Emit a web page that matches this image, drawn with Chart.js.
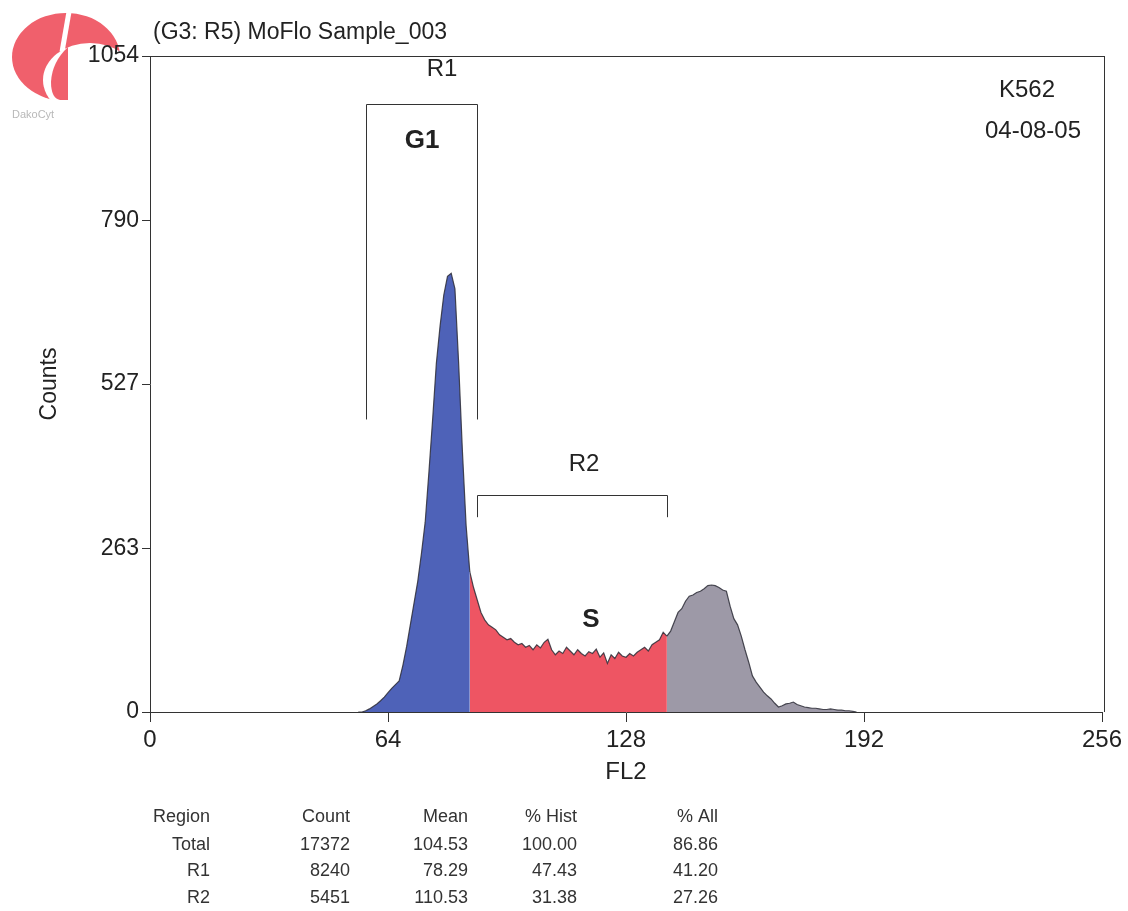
<!DOCTYPE html>
<html>
<head>
<meta charset="utf-8">
<script src="https://cdn.jsdelivr.net/npm/chart.js@4.4.1/dist/chart.umd.min.js"></script>
<style>
  body { margin: 0; background: #fff; }
  #wrap { width: 1128px; height: 911px; position: relative; }
</style>
</head>
<body>
<div id="wrap"><canvas id="myChart" width="1128" height="911"></canvas></div>
<script>
// histogram: FL2 channel -> counts
var firstChannel = 56;
var counts = [
    0, 0, 2, 5, 9, 13, 18, 24, 31, 38,          // 56-65
    44, 50, 75, 105, 140, 175, 210, 255, 305, 385, // 66-75
    470, 560, 620, 670, 700, 705, 680, 560, 420, 300, // 76-85
    225, 200, 180, 160, 148, 140, 136, 132, 124, 120, // 86-95
    116, 118, 112, 108, 110, 104, 107, 100, 108, 103, // 96-105
    112, 117, 100, 92, 98, 94, 104, 98, 92, 100,   // 106-115
    94, 90, 97, 94, 101, 88, 95, 78, 92, 86,       // 116-125
    96, 90, 88, 94, 90, 96, 100, 104, 98, 108,     // 126-135
    112, 116, 128, 122, 130, 145, 160, 166, 178, 186, // 136-145
    188, 192, 194, 198, 203, 204, 203, 200, 196, 194, // 146-155
    170, 150, 140, 122, 100, 80, 58, 48, 40, 32,   // 156-165
    26, 21, 14, 8, 10, 13, 14, 16, 12, 10,         // 166-175
    8, 7, 6, 6, 5, 4, 4, 5, 4, 3,                  // 176-185
    3, 2, 2, 1, 0                                  // 186-190
];
var phaseBreaks = [86, 139];       // G1 | S | G2 colour change
var phaseNames = ["G1", "S", "G2"];
var r1Gate = [58, 88];
var r2Gate = [88, 139];

var xTicks = [0, 64, 128, 192, 256];
var yTicks = [0, 263, 527, 790, 1054];

var tableHeader = ["Region", "Count", "Mean", "% Hist", "% All"];
var tableRegions = ["Total", "R1", "R2"];
var tableCount = ["17372", "8240", "5451"];
var tableMean = ["104.53", "78.29", "110.53"];
var tableHist = ["100.00", "47.43", "31.38"];
var tableAll = ["86.86", "41.20", "27.26"];

var FONT = "'Liberation Sans', Arial, Helvetica, sans-serif";
var INK = "#222";

var points = counts.map(function(c, i) { return {x: firstChannel + i, y: c}; });
var g1Points = points.filter(function(p) { return p.x <= phaseBreaks[0]; });
var sPoints = points.filter(function(p) { return p.x >= phaseBreaks[0] && p.x <= phaseBreaks[1]; });
var g2Points = points.filter(function(p) { return p.x >= phaseBreaks[1]; });

function phaseSet(label, data, color) {
    return {
        label: label,
        data: data,
        backgroundColor: color,
        borderColor: "rgba(45,45,55,0.85)",
        borderWidth: 1.2,
        fill: "origin",
        pointRadius: 0,
        tension: 0
    };
}

function drawLogo(ctx) {
    var red = "#f0606c";
    ctx.save();
    ctx.fillStyle = red;
    ctx.beginPath();
    ctx.ellipse(66, 57, 54, 44, 0, 0, Math.PI * 2);
    ctx.fill();
    // white cut, leaves the crescent on the left and a lobe on top
    ctx.fillStyle = "#fff";
    ctx.beginPath();
    ctx.ellipse(90, 80, 47, 37, 0, 0, Math.PI * 2);
    ctx.fill();
    ctx.strokeStyle = "#fff";
    ctx.lineWidth = 5;
    ctx.beginPath();
    ctx.moveTo(62, 52);
    ctx.lineTo(70, 6);
    ctx.stroke();
    // inner drop
    ctx.fillStyle = red;
    ctx.beginPath();
    ctx.moveTo(68, 47);
    ctx.quadraticCurveTo(52, 62, 51, 82);
    ctx.quadraticCurveTo(51, 98, 60, 100);
    ctx.lineTo(68, 100);
    ctx.closePath();
    ctx.fill();
    ctx.fillStyle = "#b8b8b8";
    ctx.font = "11px " + FONT;
    ctx.textAlign = "left";
    ctx.textBaseline = "middle";
    ctx.fillText("DakoCyt", 12, 115);
    ctx.restore();
}

var extras = {
    id: "extras",
    beforeDraw: function(chart) {
        drawLogo(chart.ctx);
    },
    afterDraw: function(chart) {
        var ctx = chart.ctx;
        var a = chart.chartArea;
        var xs = chart.scales.x, ys = chart.scales.y;
        ctx.save();

        // frame top + right
        ctx.strokeStyle = "#333";
        ctx.lineWidth = 1;
        ctx.beginPath();
        ctx.moveTo(a.left, a.top + 0.5);
        ctx.lineTo(a.right + 2, a.top + 0.5);
        ctx.moveTo(a.right + 2.5, a.top);
        ctx.lineTo(a.right + 2.5, a.bottom);
        ctx.stroke();

        ctx.fillStyle = INK;
        ctx.textBaseline = "middle";
        ctx.font = "23px " + FONT;
        ctx.textAlign = "left";
        ctx.fillText("(G3: R5) MoFlo Sample_003", 153, 33);
        ctx.textAlign = "center";
        ctx.font = "24px " + FONT;
        ctx.fillText("K562", 1027, 90);
        ctx.fillText("04-08-05", 1033, 131);

        // R1 gate
        var x1 = Math.round(xs.getPixelForValue(r1Gate[0])) + 0.5;
        var x2 = Math.round(xs.getPixelForValue(r1Gate[1])) + 0.5;
        var yTop = Math.round(ys.getPixelForValue(977)) + 0.5;
        var yBot = ys.getPixelForValue(470);
        ctx.beginPath();
        ctx.moveTo(x1, yBot); ctx.lineTo(x1, yTop); ctx.lineTo(x2, yTop); ctx.lineTo(x2, yBot);
        ctx.stroke();
        ctx.fillText("R1", 442, 69);
        ctx.font = "bold 26px " + FONT;
        ctx.fillText(phaseNames[0], (x1 + x2) / 2, 141);

        // R2 gate
        var x3 = Math.round(xs.getPixelForValue(r2Gate[0])) + 0.5;
        var x4 = Math.round(xs.getPixelForValue(r2Gate[1])) + 0.5;
        var yBar = Math.round(ys.getPixelForValue(349)) + 0.5;
        var yTick = ys.getPixelForValue(313);
        ctx.beginPath();
        ctx.moveTo(x3, yTick); ctx.lineTo(x3, yBar); ctx.lineTo(x4, yBar); ctx.lineTo(x4, yTick);
        ctx.stroke();
        ctx.font = "24px " + FONT;
        ctx.fillText("R2", 584, 464);
        ctx.font = "bold 26px " + FONT;
        ctx.fillText(phaseNames[1], 591, 620);

        // stats table
        ctx.font = "18px " + FONT;
        ctx.fillStyle = "#333";
        ctx.textAlign = "right";
        var colRight = [210, 350, 468, 577, 718];
        var rowY = [817, 845, 871, 898];
        for (var c = 0; c < tableHeader.length; c++) ctx.fillText(tableHeader[c], colRight[c], rowY[0]);
        var cols = [tableRegions, tableCount, tableMean, tableHist, tableAll];
        for (var r = 0; r < tableRegions.length; r++) {
            for (var k = 0; k < cols.length; k++) ctx.fillText(cols[k][r], colRight[k], rowY[r + 1]);
        }
        ctx.restore();
    }
};

window.onload = function() {
    var ctx = document.getElementById("myChart");
    var chart = new Chart(ctx, {
        type: "line",
        data: {
            datasets: [
                phaseSet("G1", g1Points, "#4e62b8"),
                phaseSet("S", sPoints, "#ee5563"),
                phaseSet("G2", g2Points, "#9d99a7")
            ]
        },
        options: {
            responsive: false,
            animation: false,
            devicePixelRatio: 1,
            layout: { padding: { top: 56, right: 26, bottom: 119, left: 0 } },
            plugins: { legend: { display: false }, tooltip: { enabled: false } },
            scales: {
                x: {
                    type: "linear",
                    min: 0, max: 256,
                    afterBuildTicks: function(s) { s.ticks = xTicks.map(function(v) { return {value: v}; }); },
                    afterFit: function(s) { s.height = 80; },
                    grid: { drawOnChartArea: false, drawTicks: true, tickLength: 10, color: "#333" },
                    border: { display: true, color: "#333" },
                    ticks: { font: { family: FONT, size: 24 }, color: INK, padding: 4, maxRotation: 0,
                             callback: function(v) { return String(v); } },
                    title: { display: true, text: "FL2", font: { family: FONT, size: 24 }, color: INK, padding: { top: 0, bottom: 5 } }
                },
                y: {
                    min: 0, max: 1054,
                    afterBuildTicks: function(s) { s.ticks = yTicks.map(function(v) { return {value: v}; }); },
                    afterFit: function(s) { s.width = 150; },
                    grid: { drawOnChartArea: false, drawTicks: true, tickLength: 8, color: "#333" },
                    border: { display: true, color: "#333" },
                    ticks: { font: { family: FONT, size: 23 }, color: INK, padding: 3,
                             callback: function(v) { return String(v); } },
                    title: { display: true, text: "Counts", font: { family: FONT, size: 23 }, color: INK, padding: { top: 36, bottom: 0 } }
                }
            }
        },
        plugins: [extras]
    });
};
</script>
</body>
</html>
